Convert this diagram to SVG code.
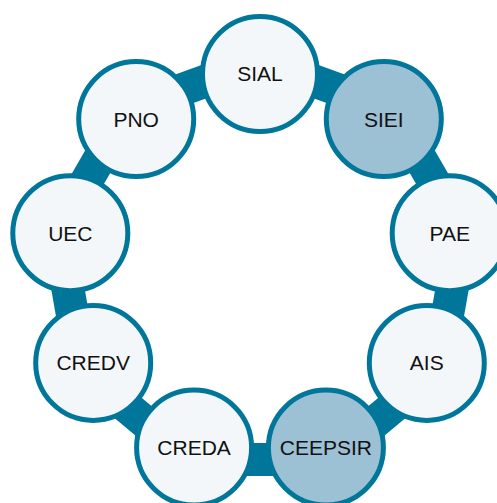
<svg xmlns="http://www.w3.org/2000/svg" width="497" height="503" viewBox="0 0 497 503">
<style>
.link{stroke:#00779a;stroke-width:33;stroke-linecap:butt;fill:none}
.node circle{fill:#f3f7fa;stroke:#00779a;stroke-width:5}
.node.hl circle{fill:#9cc0d4}
.node text{font-family:"Liberation Sans",Arial,sans-serif;font-size:21px;fill:#111;text-anchor:middle}
</style>
<rect width="497" height="503" fill="#ffffff"/>
<g id="connectors">
<line class="link" x1="260" y1="61.2" x2="392" y2="109.3"/>
<line class="link" x1="392" y1="109.3" x2="462.3" y2="230.9"/>
<line class="link" x1="462.3" y1="230.9" x2="437.9" y2="369.3"/>
<line class="link" x1="437.9" y1="369.3" x2="330.2" y2="459.6"/>
<line class="link" x1="330.2" y1="459.6" x2="189.8" y2="459.6"/>
<line class="link" x1="189.8" y1="459.6" x2="82.1" y2="369.3"/>
<line class="link" x1="82.1" y1="369.3" x2="57.7" y2="230.9"/>
<line class="link" x1="57.7" y1="230.9" x2="128" y2="109.3"/>
<line class="link" x1="128" y1="109.3" x2="260" y2="61.2"/>
</g>
<g id="SIAL" class="node"><circle cx="260" cy="74" r="57.5"/><text x="260" y="81">SIAL</text></g>
<g id="SIEI" class="node hl"><circle cx="383.8" cy="119.1" r="57.5"/><text x="383.8" y="126.6">SIEI</text></g>
<g id="PAE" class="node"><circle cx="449.7" cy="233.2" r="57.5"/><text x="449.7" y="240.7">PAE</text></g>
<g id="AIS" class="node"><circle cx="426.8" cy="362.9" r="57.5"/><text x="426.8" y="370.4">AIS</text></g>
<g id="CEEPSIR" class="node hl"><circle cx="325.9" cy="447.6" r="57.5"/><text x="325.9" y="455.1">CEEPSIR</text></g>
<g id="CREDA" class="node"><circle cx="194.1" cy="447.6" r="57.5"/><text x="194.1" y="455.1">CREDA</text></g>
<g id="CREDV" class="node"><circle cx="93.2" cy="362.9" r="57.5"/><text x="93.2" y="370.4">CREDV</text></g>
<g id="UEC" class="node"><circle cx="70.3" cy="233.2" r="57.5"/><text x="70.3" y="240.7">UEC</text></g>
<g id="PNO" class="node"><circle cx="136.2" cy="119.1" r="57.5"/><text x="136.2" y="126.6">PNO</text></g>
</svg>
